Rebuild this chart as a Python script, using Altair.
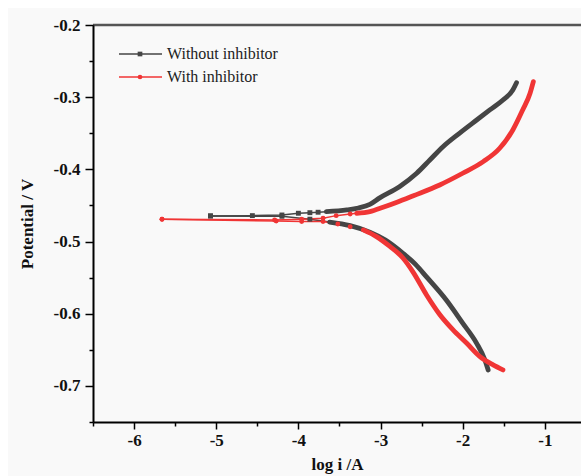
import altair as alt
import pandas as pd

# ---- data ----
series_names = ["Without inhibitor", "With inhibitor"]
colors = ["#454545", "#f03535"]

black_cath_logi = [-5.07, -4.20, -3.86, -3.62, -3.37, -3.13, -2.94, -2.73, -2.58, -2.44, -2.20, -2.00, -1.83, -1.73, -1.69]
black_cath_E = [-0.4645, -0.465, -0.469, -0.473, -0.478, -0.487, -0.498, -0.516, -0.531, -0.549, -0.581, -0.613, -0.641, -0.664, -0.678]
black_anod_logi = [-5.07, -4.56, -4.20, -4.00, -3.86, -3.76, -3.66, -3.41, -3.27, -3.13, -3.01, -2.77, -2.56, -2.40, -2.24, -2.04, -1.83, -1.67, -1.51, -1.39, -1.345]
black_anod_E = [-0.4645, -0.4641, -0.4632, -0.4608, -0.460, -0.4594, -0.4586, -0.4562, -0.4535, -0.4485, -0.4395, -0.424, -0.4054, -0.387, -0.3686, -0.350, -0.3316, -0.3177, -0.3039, -0.290, -0.280]

red_cath_logi = [-5.66, -4.27, -3.96, -3.70, -3.52, -3.37, -3.21, -3.05, -2.89, -2.73, -2.60, -2.44, -2.28, -2.12, -1.95, -1.79, -1.63, -1.51]
red_cath_E = [-0.4691, -0.4715, -0.4724, -0.4724, -0.4756, -0.4794, -0.4839, -0.4932, -0.5065, -0.5225, -0.5430, -0.5740, -0.6010, -0.6220, -0.6409, -0.6594, -0.6709, -0.6778]
red_anod_logi = [-5.66, -4.29, -3.96, -3.70, -3.54, -3.37, -3.29, -3.13, -2.97, -2.80, -2.60, -2.28, -2.00, -1.75, -1.55, -1.39, -1.27, -1.18, -1.14]
red_anod_E = [-0.4691, -0.4701, -0.4691, -0.4677, -0.4641, -0.4618, -0.4608, -0.4585, -0.4525, -0.4455, -0.4365, -0.4216, -0.4054, -0.3893, -0.3708, -0.3454, -0.3177, -0.2946, -0.2785]

x_ticks = [-6.5, -6, -5.5, -5, -4.5, -4, -3.5, -3, -2.5, -2, -1.5, -1]
y_ticks = [-0.75, -0.7, -0.65, -0.6, -0.55, -0.5, -0.45, -0.4, -0.35, -0.3, -0.25, -0.2]


def frame(series, branch, xs, ys):
    return pd.DataFrame({"series": series, "branch": branch, "logi": xs, "E": ys,
                         "order": list(range(len(xs)))})


df = pd.concat([
    frame(series_names[0], "cath", black_cath_logi, black_cath_E),
    frame(series_names[0], "anod", black_anod_logi, black_anod_E),
    frame(series_names[1], "cath", red_cath_logi, red_cath_E),
    frame(series_names[1], "anod", red_anod_logi, red_anod_E),
], ignore_index=True)

W, H = 488, 397
FONT = "Liberation Serif"

x_major = "abs(datum.value - round(datum.value)) < 0.01"
y_major = "abs(datum.value*10 - round(datum.value*10)) < 0.01"

common_axis = dict(
    grid=False, zindex=1, domainColor="black", domainWidth=2, tickColor="black", tickWidth=1.5,
    labelFont=FONT, labelFontWeight="bold", labelFontSize=17, labelColor="#111111",
    titleFont=FONT, titleFontWeight="bold", titleFontSize=17, titleColor="#111111",
)

x_enc = alt.X("logi:Q", scale=alt.Scale(domain=[-6.5, -0.56], nice=False, zero=False),
              title="log i /A",
              axis=alt.Axis(values=x_ticks,
                            labelExpr=f"{x_major} ? '' + datum.value : ''",
                            tickSize={"condition": {"test": x_major, "value": 7}, "value": 4},
                            labelPadding=3, titlePadding=8, labelFlush=False, **common_axis))
y_enc = alt.Y("E:Q", scale=alt.Scale(domain=[-0.75, -0.2], nice=False, zero=False),
              title="Potential / V",
              axis=alt.Axis(values=y_ticks,
                            labelExpr=f"{y_major} ? '' + datum.value : ''",
                            tickSize={"condition": {"test": y_major, "value": 8}, "value": 4},
                            labelPadding=5, titlePadding=17, labelFlush=False, **common_axis))

color_enc = alt.Color("series:N", scale=alt.Scale(domain=series_names, range=colors), legend=None)

base = alt.Chart(df).encode(x=x_enc, y=y_enc, color=color_enc, detail="branch:N", order="order:Q")

dense_test = ("(datum.series == 'Without inhibitor' && datum.logi > -3.7) || "
              "(datum.series == 'With inhibitor' && datum.logi > -3.35)")

thin = base.mark_line(strokeWidth=1.5)
thick = base.transform_filter(dense_test).mark_line(strokeWidth=4.8, strokeCap="round",
                                                    strokeJoin="round", interpolate="monotone")
pts = base.transform_filter(f"!({dense_test})").mark_point(filled=True, size=24, opacity=1).encode(
    shape=alt.Shape("series:N", scale=alt.Scale(domain=series_names, range=["square", "circle"]), legend=None)
)

one = pd.DataFrame({"a": [0]})
bg = alt.Chart(one).mark_rect(color="#f9f9f9").encode(
    x=alt.value(-85), x2=alt.value(W), y=alt.value(-17), y2=alt.value(H + 60))
top = alt.Chart(one).mark_rule(color="#555555", strokeWidth=2.5).encode(
    x=alt.value(0), x2=alt.value(W), y=alt.value(0))

legend_layers = []
shapes = ["square", "circle"]
for i, name in enumerate(series_names):
    yy = 29 + 23 * i
    d = pd.DataFrame({"series": [name]})
    legend_layers.append(alt.Chart(d).mark_rule(color=colors[i], strokeWidth=1.5).encode(
        x=alt.value(26), x2=alt.value(69), y=alt.value(yy)))
    legend_layers.append(alt.Chart(d).mark_point(filled=True, size=22, opacity=1, color=colors[i],
                                                 shape=shapes[i]).encode(
        x=alt.value(47), y=alt.value(yy)))
    legend_layers.append(alt.Chart(d).mark_text(align="left", baseline="middle", font=FONT, fontSize=16,
                                                color="#222222").encode(
        x=alt.value(74), y=alt.value(yy), text="series:N"))

chart = alt.layer(bg, top, thin, thick, pts, *legend_layers).properties(
    width=W, height=H,
    autosize=alt.AutoSizeParams(type="none"),
    padding={"left": 93, "top": 25, "right": 0, "bottom": 54},
    background="white",
).configure_view(stroke=None)

chart.save("out.html", embed_options={"renderer": "svg", "actions": False})
